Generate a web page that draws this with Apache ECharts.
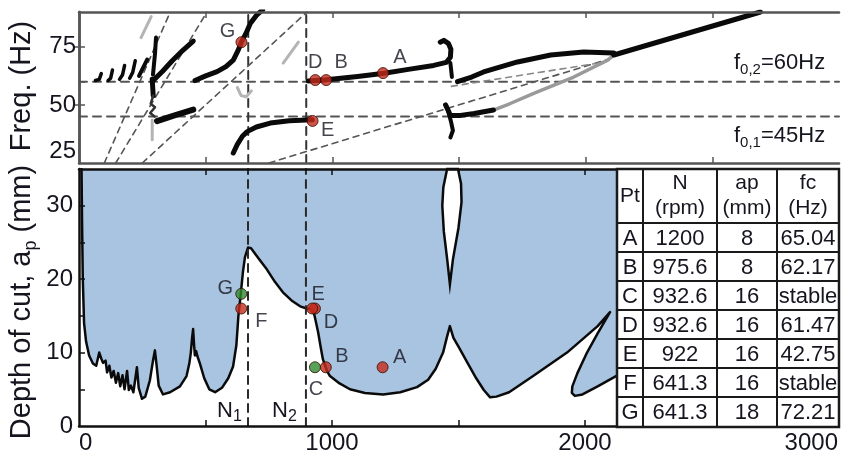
<!DOCTYPE html>
<html><head><meta charset="utf-8">
<script src="https://cdn.jsdelivr.net/npm/echarts@6/dist/echarts.min.js"></script>
<style>html,body{margin:0;padding:0;background:#fff}#c{width:841px;height:455px}</style>
</head><body><div id="c"></div>
<script>
// ---------------- data ----------------
const rpmTicks = [500, 1000, 1500, 2000, 2500];
const rpmLabels = [0, 1000, 2000, 3000];
const freqLabels = [25, 50, 75];
const freqTicks = [50, 60, 75];
const depthLabels = [0, 10, 20, 30];
const depthTicks = [5, 10, 15, 20, 25, 30];

const N1 = 668, N2 = 897;          // spindle speeds of the dashed verticals
const f01 = 45, f02 = 60;          // natural frequencies (Hz)

// stability lobe boundary (N rpm, ap mm)
const lobeN = [10,12,15,20,28,40,55,68,80,88,95,105,111,120,128,137,146,155,163,172,180,190,197,205,215,229,236,249,262,280,293,300,306,315,332,360,399,425,436,442,447,451,455,458,463,468,478,495,515,538,565,590,609,622,630,640,648,656,668,680,710,743,775,806,840,874,900,921,930,945,955,964,980,992,1030,1071,1130,1202,1270,1336,1380,1410,1439,1455,1466,1480,1500,1534,1570,1600,1625,1650,1700,1795,1929,2050,2099,2050,2008,1970,1950,1948,1960,1990,2050,2128];
const lobeAp = [35,28,20,14,11.5,9.6,8.5,8.2,10,9.2,8.6,8.9,7.3,8.2,6.6,7.5,5.9,7.2,5.4,6.9,5.0,7.5,4.9,5.5,4.6,8.0,5.2,3.7,4.0,6.2,9.0,10.3,8.5,5.5,4.3,4.6,5.4,6.8,8.5,10,12,13.2,11,9.6,10.2,9.5,8.5,6.5,5.0,4.6,5.2,6.5,8.1,11,15,18.2,21,23,24.3,24.2,22.8,21.3,19.6,18.2,17.1,16.3,16.0,15.9,15.2,12.8,10.8,9.1,7.5,6.8,5.8,5.0,4.5,4.3,4.6,5.3,6.3,7.8,10,12.2,13.6,12.0,10.8,8.7,6.5,4.9,3.9,4.0,4.6,6.8,10,13.6,15.5,12.6,10.0,7.2,5.4,4.5,4.1,4.3,5.4,6.9];
// stable island near 1480 rpm
const islandN = [1455,1440,1436,1442,1456,1466,1478,1500,1512,1510,1498];
const islandAp = [35,32.5,30,26.5,22.5,19.3,22.7,27,30.5,33,35];

// table
const tableHead = ['Pt', 'N\n(rpm)', 'ap\n(mm)', 'fc\n(Hz)'];
const ptNames = ['A', 'B', 'C', 'D', 'E', 'F', 'G'];
const ptRpm = ['1200', '975.6', '932.6', '932.6', '922', '641.3', '641.3'];
const ptAp = ['8', '8', '16', '16', '16', '16', '18'];
const ptFc = ['65.04', '62.17', 'stable', '61.47', '42.75', 'stable', '72.21'];

// markers on the stability chart (as drawn)
const stabMarkN = [1200, 975.6, 932.6, 932.6, 922, 641.3, 641.3];
const stabMarkAp = [8, 8, 8, 16, 16, 16, 18];
const stabMarkGreen = [false, false, true, false, false, false, true];

// markers on the frequency chart (as drawn)
const freqMarkNames = ['G', 'D', 'B', 'A', 'E'];
const freqMarkN = [641.3, 932.6, 975.6, 1200, 922];
const freqMarkF = [77, 60.7, 60.7, 63.7, 43.1];

// chatter frequency branches, [N rpm, f Hz]
const branchDBA = [[905,60.3],[976,60.8],[1100,62.2],[1205,63.6],[1300,65.3],[1400,67],[1450,68.3],[1466,70.5],[1468,74],[1458,76.5],[1440,77.8],[1426,77]];
const branchStem = [[1466,68],[1472,62]];
const branchUpper = [[1494,60],[1550,62],[1597,64.2],[1731,68.5],[1862,71.5],[1992,72.8],[2111,72.3]];
const branchTooth = [[2111,71.5],[2690,90]];
const branchLowBlack = [[1447,50],[1460,47],[1466,45.5],[1506,45.5],[1560,46.3],[1636,47.8]];
const branchLowTail = [[1458,47],[1468,43],[1476,39],[1466,36]];
const branchLowGray = [[1636,47.8],[1700,50.5],[1795,55],[1953,62],[2087,69.3],[2111,71.5]];
const branchE = [[609,29.3],[625,33],[645,36.5],[664,38.5],[700,40.5],[755,42.2],[830,43.2],[921,43.6]];
const branchG = [[458,60.5],[500,62.5],[545,64.3],[580,66.5],[609,69.3],[628,73.5],[641,77],[660,81],[676,85],[700,88.5],[725,91]];
const branchLeft1 = [[293,60.5],[330,64.5],[368,69],[410,73.5],[451,77.5]];
const branchLeftStem = [[289,61],[293,54]];
const branchLeft2 = [[237,62.5],[269,69.5]];
const branchLeft3 = [[292,63],[300,72],[304,79]];
const branchLeft45 = [[308,43],[350,44.5],[400,46.3],[451,48]];
const branchSquiggle = [[293,54],[283,50.5],[300,49],[281,46.5],[298,45]];
const branchHook1 = [[65,60.5],[80,61],[88,63.5]];
const branchHook2 = [[115,60.5],[125,61.5],[132,65]];
const branchHook3 = [[160,61],[172,63],[180,67]];
const branchHook4 = [[200,61.5],[212,64],[222,69]];
const faintA = [[245,79],[285,88]];
const faintB = [[806,68],[866,77]];
const faintC = [[625,57.5],[640,54],[660,53.5],[680,56]];
const faintD = [[289,43.5],[289,35]];
const faintE = [[1470,58],[1700,62],[2050,68]];
// dashed harmonic lines
const harmonic1 = [[100,25],[360,90]];
const harmonic2 = [[145,25],[505,90]];
const harmonic3 = [[250,25],[900,90]];
const harmonic4 = [[750,25],[2111,70.4]];

// ---------------- chart ----------------
const FONT = '"Liberation Sans", Arial, sans-serif';
const TXT = '#15151f';
const zip = (a, b) => a.map((v, i) => [v, b[i]]);

function ln(data, grid, color, width, dash, z) {
  const xi = grid === 0 ? 0 : 2, yi = grid === 0 ? 0 : 2;
  return {
    type: 'line', xAxisIndex: xi, yAxisIndex: yi, data: data,
    symbol: 'none', showSymbol: false, silent: true, z: z || 3,
    lineStyle: { color: color, width: width, type: dash || 'solid', cap: 'round', join: 'round' }
  };
}
function polygonSeries(pts, fill, stroke, lw, z) {
  return {
    type: 'custom', xAxisIndex: 2, yAxisIndex: 2, data: [[0, 0]], silent: true, z: z,
    renderItem: function (params, api) {
      return { type: 'polygon', shape: { points: pts.map(p => api.coord(p)) },
        style: { fill: fill, stroke: stroke || null, lineWidth: lw || 0 } };
    }
  };
}

const lobe = zip(lobeN, lobeAp);
const fillPoly = lobe.concat([[lobeN[lobeN.length - 1], 35], [lobeN[0], 35]]);
const island = zip(islandN, islandAp);

const xBase = (grid, pos, col, showLab) => ({
  type: 'value', gridIndex: grid, position: pos, min: 0, max: 3000, z: 5,
  splitLine: { show: false },
  axisLine: { show: true, onZero: false, lineStyle: { color: col, width: 2.5 } },
  axisTick: { show: true, inside: true, length: 6, customValues: rpmTicks, lineStyle: { color: col, width: 1.5 } },
  axisLabel: showLab ? { show: true, customValues: rpmLabels, fontSize: 24, fontFamily: FONT, color: TXT,
    margin: 5, alignMinLabel: 'left', alignMaxLabel: 'right', formatter: v => String(v) } : { show: false }
});

const labOffTop = { G: [-14, -11], D: [0, -18], B: [15, -18], A: [17, -16], E: [15, 10] };
const labOffBot = { A: [17, -10], B: [16, -11], C: [1, 22], D: [16, 14], E: [6, -14], F: [20, 13], G: [-16, -5] };
const RED = '#c42a1c', GREEN = '#2f8a2f';

const topMarks = freqMarkNames.map((n, i) => ({ name: n, value: [freqMarkN[i], freqMarkF[i]],
  itemStyle: { color: RED }, label: { offset: labOffTop[n] } }));
const botMarks = ptNames.map((n, i) => ({ name: n, value: [stabMarkN[i], stabMarkAp[i]],
  itemStyle: { color: stabMarkGreen[i] ? GREEN : RED }, label: { offset: labOffBot[n] } }));

const markLabel = { show: true, position: 'inside', formatter: '{b}', fontSize: 20, fontFamily: FONT, color: TXT };

const BLK = '#0a0a0a', GRY = '#b4b4b4', DSH = '#555555';
const series = [
  // top panel
  ln([[0, f02], [3000, f02]], 0, DSH, 2, [8, 6], 2),
  ln([[0, f01], [3000, f01]], 0, DSH, 2, [8, 6], 2),
  ln([[N1, 25], [N1, 90]], 0, '#333', 2, [8, 6], 2),
  ln([[N2, 25], [N2, 90]], 0, '#333', 2, [8, 6], 2),
  ln(harmonic1, 0, DSH, 1.6, [6, 5], 2),
  ln(harmonic2, 0, DSH, 1.6, [6, 5], 2),
  ln(harmonic3, 0, DSH, 1.6, [6, 5], 2),
  ln(harmonic4, 0, DSH, 1.6, [6, 5], 2),
  ln(faintE, 0, '#888', 1.6, [6, 5], 2),
  ln(faintA, 0, GRY, 3), ln(faintB, 0, GRY, 3), ln(faintC, 0, GRY, 3), ln(faintD, 0, GRY, 3),
  ln(branchLowGray, 0, '#9a9a9a', 3.5),
  ln(branchDBA, 0, BLK, 5), ln(branchStem, 0, BLK, 4), ln(branchUpper, 0, BLK, 5),
  ln(branchTooth, 0, BLK, 5), ln(branchLowBlack, 0, BLK, 5), ln(branchLowTail, 0, BLK, 4),
  ln(branchE, 0, BLK, 5), ln(branchG, 0, BLK, 5), ln(branchLeft1, 0, BLK, 5),
  ln(branchLeftStem, 0, BLK, 5), ln(branchLeft2, 0, BLK, 4), ln(branchLeft3, 0, BLK, 4),
  ln(branchLeft45, 0, BLK, 6), ln(branchSquiggle, 0, '#333', 2.5),
  ln(branchHook1, 0, BLK, 3.5), ln(branchHook2, 0, BLK, 3.5), ln(branchHook3, 0, BLK, 3.5), ln(branchHook4, 0, BLK, 3.5),
  { type: 'scatter', xAxisIndex: 0, yAxisIndex: 0, data: topMarks, symbolSize: 11, z: 8, silent: true,
    itemStyle: { borderColor: '#3a0800', borderWidth: 1 }, label: markLabel },
  // bottom panel
  polygonSeries(fillPoly, '#a9c4e1', null, 0, 1),
  polygonSeries(island, '#ffffff', BLK, 2.5, 3),
  ln(lobe, 1, BLK, 2.5, 'solid', 3),
  ln([[N1, 0], [N1, 35]], 1, '#2a2a2a', 2, [8, 6], 4),
  ln([[N2, 0], [N2, 35]], 1, '#2a2a2a', 2, [8, 6], 4),
  { type: 'scatter', xAxisIndex: 2, yAxisIndex: 2, data: botMarks, symbolSize: 11, z: 8, silent: true,
    itemStyle: { borderColor: '#301000', borderWidth: 1 }, label: markLabel }
];

// table graphic
function tableGraphic() {
  const colX = [617, 643, 717, 777, 839];
  const rowY = [169, 223, 252, 281, 310, 339, 368, 397, 427];
  const els = [];
  const st = { stroke: '#1a1a1a', lineWidth: 2 };
  els.push({ type: 'rect', z: 100, shape: { x: colX[0], y: rowY[0], width: colX[4] - colX[0], height: rowY[8] - rowY[0] },
    style: { fill: '#fff', stroke: '#1a1a1a', lineWidth: 2.5 } });
  colX.slice(1, -1).forEach(x => els.push({ type: 'line', z: 101, shape: { x1: x, y1: rowY[0], x2: x, y2: rowY[8] }, style: st }));
  rowY.slice(1, -1).forEach(y => els.push({ type: 'line', z: 101, shape: { x1: colX[0], y1: y, x2: colX[4], y2: y }, style: st }));
  const cx = i => (colX[i] + colX[i + 1]) / 2;
  tableHead.forEach((t, i) => els.push({ type: 'text', z: 102, x: cx(i), y: (rowY[0] + rowY[1]) / 2,
    style: { text: t, fontSize: 21, fontFamily: FONT, fill: TXT, align: 'center', verticalAlign: 'middle', lineHeight: 25 } }));
  const cols = [ptNames, ptRpm, ptAp, ptFc];
  ptNames.forEach((_, r) => cols.forEach((c, i) => els.push({ type: 'text', z: 102, x: cx(i), y: (rowY[r + 1] + rowY[r + 2]) / 2 + 1,
    style: { text: c[r], fontSize: 22, fontFamily: FONT, fill: TXT, align: 'center', verticalAlign: 'middle' } })));
  return els;
}

const sub = (fs) => ({ fontSize: fs, fontFamily: FONT, fill: TXT, verticalAlign: 'bottom', lineHeight: fs });
const graphics = [
  { type: 'text', z: 100, x: 22, y: 302, rotation: Math.PI / 2,
    style: { text: '{a|Depth of cut, a}{s|p}{a| (mm)}', align: 'center', verticalAlign: 'middle',
      rich: { a: { fontSize: 29, fontFamily: FONT, fill: TXT, lineHeight: 36 }, s: sub(18) } } },
  { type: 'text', z: 100, x: 22, y: 86, rotation: Math.PI / 2,
    style: { text: 'Freq. (Hz)', fontSize: 29, fontFamily: FONT, fill: TXT, align: 'center', verticalAlign: 'middle' } },
  { type: 'text', z: 100, x: 734, y: 63,
    style: { text: '{a|f}{s|0,2}{a|=60Hz}', align: 'left', verticalAlign: 'middle',
      rich: { a: { fontSize: 22, fontFamily: FONT, fill: TXT, lineHeight: 28 }, s: sub(15) } } },
  { type: 'text', z: 100, x: 734, y: 136,
    style: { text: '{a|f}{s|0,1}{a|=45Hz}', align: 'left', verticalAlign: 'middle',
      rich: { a: { fontSize: 22, fontFamily: FONT, fill: TXT, lineHeight: 28 }, s: sub(15) } } },
  { type: 'text', z: 100, x: 217, y: 411,
    style: { text: '{a|N}{s|1}', align: 'left', verticalAlign: 'middle',
      rich: { a: { fontSize: 22, fontFamily: FONT, fill: TXT, lineHeight: 28 }, s: sub(16) } } },
  { type: 'text', z: 100, x: 272, y: 411,
    style: { text: '{a|N}{s|2}', align: 'left', verticalAlign: 'middle',
      rich: { a: { fontSize: 22, fontFamily: FONT, fill: TXT, lineHeight: 28 }, s: sub(16) } } }
].concat(tableGraphic());

const option = {
  animation: false,
  backgroundColor: '#ffffff',
  grid: [
    { left: 79, right: 2, top: 12, height: 151 },
    { left: 79, right: 2, top: 169, height: 258 }
  ],
  xAxis: [
    xBase(0, 'bottom', '#555', false),
    xBase(0, 'top', '#555', false),
    xBase(1, 'bottom', '#111', true),
    xBase(1, 'top', '#111', false)
  ],
  yAxis: [
    { type: 'value', gridIndex: 0, position: 'left', min: 25, max: 90, z: 5, splitLine: { show: false },
      axisLine: { show: true, lineStyle: { color: '#555', width: 2.5 } },
      axisTick: { show: true, inside: true, length: 6, customValues: freqTicks, lineStyle: { color: '#555', width: 1.5 } },
      axisLabel: { customValues: freqLabels, fontSize: 24, fontFamily: FONT, color: TXT, margin: 3, verticalAlignMinLabel: 'bottom' } },
    { type: 'value', gridIndex: 0, position: 'right', min: 25, max: 90, z: 5, splitLine: { show: false },
      axisLine: { show: true, lineStyle: { color: '#555', width: 2.5 } },
      axisTick: { show: true, inside: true, length: 6, customValues: [50, 75], lineStyle: { color: '#555', width: 1.5 } },
      axisLabel: { show: false } },
    { type: 'value', gridIndex: 1, position: 'left', min: 0, max: 35, z: 5, splitLine: { show: false },
      axisLine: { show: true, lineStyle: { color: '#111', width: 2.5 } },
      axisTick: { show: true, inside: true, length: 6, customValues: depthTicks, lineStyle: { color: '#111', width: 1.5 } },
      axisLabel: { customValues: depthLabels, fontSize: 24, fontFamily: FONT, color: TXT, margin: 6 } }
  ],
  series: series,
  graphic: graphics
};

const chart = echarts.init(document.getElementById('c'), null, { renderer: 'canvas' });
chart.setOption(option);
</script></body></html>
